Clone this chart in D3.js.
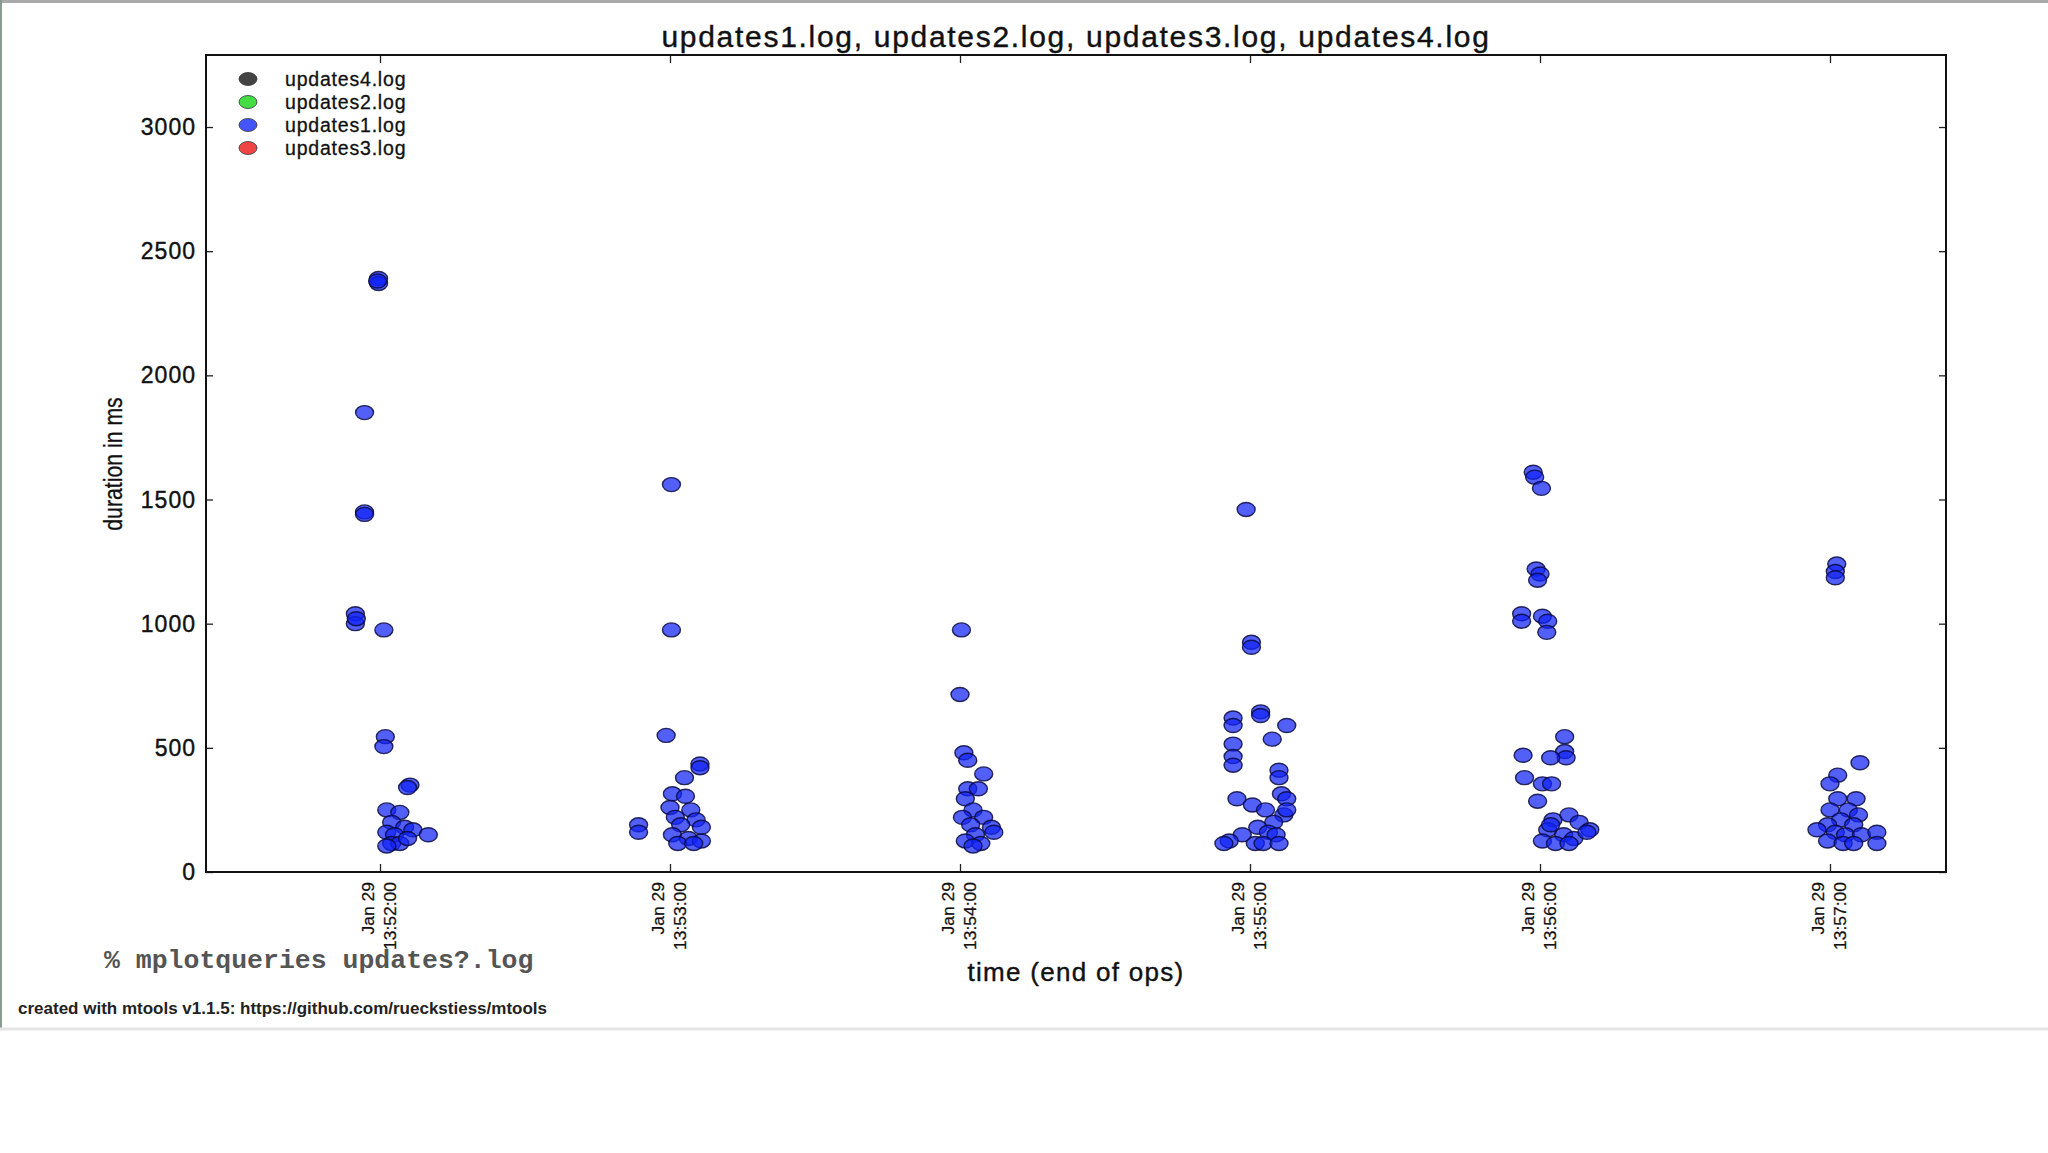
<!DOCTYPE html>
<html><head><meta charset="utf-8">
<script src="https://cdn.jsdelivr.net/npm/d3@7"></script>
<style>body{margin:0;background:#fff}svg{display:block}</style>
</head><body>
<script>
const title = "updates1.log, updates2.log, updates3.log, updates4.log";
const seriesNames = ["updates4.log","updates2.log","updates1.log","updates3.log"];
const seriesColors = ["#444444","#44dd44","#4455ff","#ee4444"];
const yTicks = [0,500,1000,1500,2000,2500,3000];
const xTickTimes = ["13:52:00","13:53:00","13:54:00","13:55:00","13:56:00","13:57:00"];
const xDomain = ["13:51:24","13:57:24"];
const yMax = 3290;
// updates1.log points: time of end of op, duration in ms
const times = [
"13:51:59.7","13:51:59.7","13:51:59.5","13:51:56.8","13:51:56.8","13:51:56.8","13:51:54.9","13:51:54.9","13:51:55.1",
"13:52:00.8","13:52:01.1","13:52:00.8","13:52:06.2","13:52:05.7","13:52:01.4","13:52:04.1","13:52:02.4","13:52:05.1",
"13:52:01.4","13:52:03.0","13:52:06.8","13:52:10.0","13:52:02.4","13:52:04.1","13:52:01.4","13:52:05.7",
"13:53:00.3","13:53:00.3","13:52:59.2","13:52:53.5","13:52:53.5","13:53:06.2","13:53:06.2","13:53:03.0",
"13:53:00.5","13:53:03.2","13:53:00.0","13:53:04.3","13:53:01.1","13:53:05.4","13:53:02.2","13:53:06.5","13:53:00.5",
"13:53:03.8","13:53:06.5","13:53:01.6","13:53:04.9",
"13:54:00.3","13:54:00.0","13:54:00.8","13:54:01.6","13:54:04.9","13:54:01.6","13:54:03.8","13:54:01.1","13:54:02.7",
"13:54:00.5","13:54:04.9","13:54:02.2","13:54:06.5","13:54:03.2","13:54:07.0","13:54:01.1","13:54:04.3","13:54:02.7",
"13:54:59.2","13:55:00.3","13:55:00.3","13:54:56.5","13:54:56.5","13:54:56.5","13:54:56.5","13:54:56.5","13:55:02.2",
"13:55:02.2","13:55:07.6","13:55:04.6","13:55:06.0","13:55:06.0","13:54:57.3","13:55:00.5","13:55:03.2","13:55:06.5",
"13:55:07.6","13:55:07.0","13:55:04.9","13:55:01.6","13:55:03.8","13:54:58.4","13:54:55.7","13:54:54.6","13:55:07.6",
"13:55:05.4","13:55:01.1","13:55:02.7","13:55:06.0",
"13:55:58.6","13:55:58.9","13:56:00.3","13:55:59.2","13:56:00.0","13:55:59.5","13:55:56.2","13:55:56.2","13:56:00.5",
"13:56:01.6","13:56:01.4","13:55:56.5","13:55:56.8","13:56:05.1","13:56:05.1","13:56:05.4","13:56:02.2","13:56:00.5",
"13:56:02.4","13:55:59.5","13:56:02.7","13:56:06.0","13:56:08.1","13:56:10.3","13:56:01.6","13:56:04.9","13:56:07.0",
"13:56:09.7","13:56:00.5","13:56:03.2","13:56:06.0","13:56:02.2",
"13:57:01.4","13:57:01.1","13:57:01.1","13:57:01.6","13:57:00.0","13:57:06.2","13:57:01.6","13:57:05.4","13:57:00.0",
"13:57:03.8","13:57:05.9","13:57:02.2","13:56:59.5","13:57:04.9","13:57:01.1","13:57:03.2","13:57:06.5","13:56:59.5",
"13:57:02.7","13:57:04.9","13:57:09.7","13:57:09.7","13:56:57.3"
];
const durations = [
2390,2370,2380,1850,1450,1440,1040,1000,1020,
975,545,505,350,340,250,240,200,180,
160,150,170,150,115,115,105,135,
1560,975,550,190,160,435,420,380,
315,305,260,250,220,210,190,180,150,
135,125,115,115,
975,715,480,450,395,335,335,295,250,
220,220,190,180,150,160,125,115,105,
1460,925,905,620,590,515,465,430,645,
630,590,535,410,380,295,270,250,315,
295,230,200,180,160,150,125,115,250,
150,115,115,115,
1610,1590,1545,1220,1200,1175,1040,1010,1030,
1010,965,470,380,545,485,460,460,355,
355,285,210,230,200,170,170,150,135,
160,125,115,115,190,
1240,1210,1185,390,355,440,295,295,250,
250,230,210,190,190,160,150,150,125,
115,115,160,115,170
];

function parseT(s){const [h,m,sec]=s.split(":").map(Number);return new Date(2014,0,29,h,m,0,Math.round(sec*1000));}
const W=2048,H=1153;
const L=206,R=1946,T=55,B=872;
const svg=d3.select("body").append("svg").attr("width",W).attr("height",H).style("font-family","'Liberation Sans',Arial,sans-serif");
svg.append("rect").attr("width",W).attr("height",H).attr("fill","#fff");
svg.append("line").attr("x1",0).attr("x2",W).attr("y1",1.5).attr("y2",1.5).attr("stroke","#aaa").attr("stroke-width",3);
svg.append("line").attr("x1",1).attr("x2",1).attr("y1",0).attr("y2",1028).attr("stroke","#8a9a90").attr("stroke-width",2);
svg.append("line").attr("x1",0).attr("x2",W).attr("y1",1029).attr("y2",1029).attr("stroke","#e4e4e4").attr("stroke-width",3);

const x=d3.scaleTime().domain(xDomain.map(parseT)).range([L,R]);
const y=d3.scaleLinear().domain([0,yMax]).range([B,T]);

svg.append("text").attr("x",(L+R)/2).attr("y",47).attr("text-anchor","middle").attr("font-size",30)
 .attr("letter-spacing",1.7).attr("stroke","#111").attr("stroke-width",0.4).attr("fill","#111").text(title);

const yAxL=svg.append("g").attr("transform",`translate(${L},0)`).call(d3.axisRight(y).tickValues(yTicks).tickSize(7).tickFormat(""));
const yAxR=svg.append("g").attr("transform",`translate(${R},0)`).call(d3.axisLeft(y).tickValues(yTicks).tickSize(7).tickFormat(""));
const xT=xTickTimes.map(parseT);
const xAxB=svg.append("g").attr("transform",`translate(0,${B})`).call(d3.axisTop(x).tickValues(xT).tickSize(8).tickFormat(""));
const xAxT=svg.append("g").attr("transform",`translate(0,${T})`).call(d3.axisBottom(x).tickValues(xT).tickSize(8).tickFormat(""));
[yAxL,yAxR,xAxB,xAxT].forEach(g=>{g.select(".domain").remove();g.selectAll("line").attr("stroke","#222").attr("stroke-width",1.3);});
svg.append("rect").attr("x",L).attr("y",T).attr("width",R-L).attr("height",B-T).attr("fill","none").attr("stroke","#111").attr("stroke-width",2);

svg.append("g").selectAll("text").data(yTicks).join("text")
 .attr("x",196).attr("y",d=>y(d)+8).attr("text-anchor","end").attr("font-size",23).attr("letter-spacing",1)
 .attr("stroke","#111").attr("stroke-width",0.4).attr("fill","#111").text(d=>d);

const fmt=d3.timeFormat("%H:%M:%S");
const xl=svg.append("g").selectAll("g").data(xT).join("g")
 .attr("transform",d=>`translate(${x(d)},${B+10}) rotate(-90)`);
xl.append("text").attr("x",0).attr("y",-7).attr("text-anchor","end").attr("font-size",19).attr("fill","#111")
 .attr("stroke","#111").attr("stroke-width",0.3).attr("transform","scale(0.92,0.85)").text("Jan 29");
xl.append("text").attr("x",0).attr("y",19).attr("text-anchor","end").attr("font-size",19).attr("fill","#111")
 .attr("stroke","#111").attr("stroke-width",0.3).attr("transform","scale(0.92,0.85)").text(d=>fmt(d));

svg.append("text").attr("transform","translate(122,464) rotate(-90) scale(0.85,1)").attr("text-anchor","middle")
 .attr("font-size",25).attr("fill","#111").attr("stroke","#111").attr("stroke-width",0.3).text("duration in ms");
svg.append("text").attr("x",(L+R)/2).attr("y",981).attr("text-anchor","middle").attr("font-size",26).attr("letter-spacing",1.3)
 .attr("fill","#111").attr("stroke","#111").attr("stroke-width",0.4).text("time (end of ops)");
svg.append("text").attr("x",104).attr("y",968).attr("font-family","'Liberation Mono','DejaVu Sans Mono',monospace")
 .attr("font-weight","bold").attr("font-size",26.5).attr("fill","#555").text("% mplotqueries updates?.log");
svg.append("text").attr("x",18).attr("y",1014).attr("font-size",17).attr("font-weight","bold").attr("fill","#222")
 .text("created with mtools v1.1.5: https://github.com/rueckstiess/mtools");

const pts=times.map((t,i)=>({t:parseT(t),v:durations[i]}));
svg.append("g").selectAll("ellipse").data(pts).join("ellipse")
 .attr("cx",d=>x(d.t)).attr("cy",d=>y(d.v)).attr("rx",9).attr("ry",7)
 .attr("fill","#1122f5").attr("fill-opacity",0.72).attr("stroke","#0a0a40").attr("stroke-opacity",0.85).attr("stroke-width",1.4);

const lg=svg.append("g").selectAll("g").data(seriesNames).join("g").attr("transform",(d,i)=>`translate(248,${79+i*23})`);
lg.append("ellipse").attr("rx",9).attr("ry",6.5).attr("fill",(d,i)=>seriesColors[i]).attr("stroke","#333").attr("stroke-width",0.8);
lg.append("text").attr("x",37).attr("y",7).attr("font-size",19.5).attr("letter-spacing",0.8)
 .attr("stroke","#111").attr("stroke-width",0.3).attr("fill","#111").text(d=>d);
</script>
</body></html>
